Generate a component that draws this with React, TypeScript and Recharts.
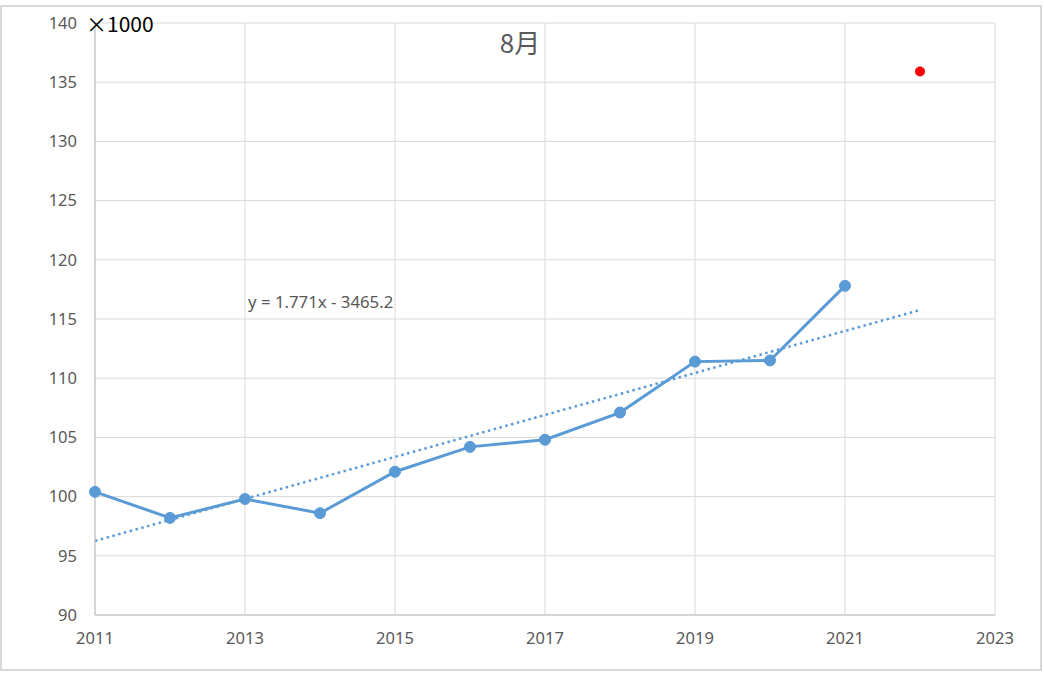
import React from "react";
import { ComposedChart, Line, XAxis, YAxis, CartesianGrid } from "recharts";

const years = [2011, 2012, 2013, 2014, 2015, 2016, 2017, 2018, 2019, 2020, 2021];
const values = [100.4, 98.2, 99.8, 98.6, 102.1, 104.2, 104.8, 107.1, 111.4, 111.5, 117.8];
const forecastYear = [2022];
const forecastValue = [135.9];
const trendYears = [2011, 2022];
const trendValues = [96.26, 115.76];
const xTicks = [2011, 2013, 2015, 2017, 2019, 2021, 2023];
const yTicks = [90, 95, 100, 105, 110, 115, 120, 125, 130, 135, 140];

const mainData = years.map((y, i) => ({ year: y, value: values[i] }));
const forecastData = forecastYear.map((y, i) => ({ year: y, value: forecastValue[i] }));
const trendData = trendYears.map((y, i) => ({ year: y, trend: trendValues[i] }));

const FONT = "'Noto Sans', sans-serif";

export default function App() {
  return (
    <div style={{ position: "absolute", left: 0, top: 0, width: 1044, height: 673, background: "#fff" }}>
      <div
        style={{
          position: "absolute",
          left: 0,
          top: 5,
          width: 1038,
          height: 662,
          border: "2px solid #d9d9d9",
        }}
      />
      <ComposedChart
        width={1044}
        height={673}
        margin={{ top: 23, right: 49, bottom: 28, left: 35 }}
        style={{ position: "absolute", left: 0, top: 0 }}
      >
        <CartesianGrid stroke="#d9d9d9" strokeWidth={1} />
        <XAxis
          dataKey="year"
          type="number"
          domain={[2011, 2023]}
          ticks={xTicks}
          allowDuplicatedCategory={false}
          stroke="#bfbfbf"
          tickLine={false}
          tickSize={6}
          tickMargin={11}
          height={30}
          tick={{ fill: "#595959", fontSize: 16.5, fontFamily: FONT }}
        />
        <YAxis
          type="number"
          domain={[90, 140]}
          ticks={yTicks}
          stroke="#bfbfbf"
          tickLine={false}
          tickSize={6}
          tickMargin={12}
          width={60}
          tick={{ fill: "#595959", fontSize: 16.5, fontFamily: FONT }}
        />
        <Line
          data={trendData}
          dataKey="trend"
          type="linear"
          stroke="#5b9bd5"
          strokeWidth={2.5}
          strokeDasharray="2.5 3.5"
          dot={false}
          activeDot={false}
          isAnimationActive={false}
        />
        <Line
          data={mainData}
          dataKey="value"
          type="linear"
          stroke="#5b9bd5"
          strokeWidth={3}
          dot={{ r: 5.5, fill: "#5b9bd5", stroke: "#5b9bd5", strokeWidth: 1 }}
          activeDot={false}
          isAnimationActive={false}
        />
        <Line
          data={forecastData}
          dataKey="value"
          type="linear"
          stroke="none"
          dot={{ r: 5, fill: "#ff0000", stroke: "#ff0000", strokeWidth: 0 }}
          activeDot={false}
          isAnimationActive={false}
        />
      </ComposedChart>
      <div
        style={{
          position: "absolute",
          left: 86,
          top: 9,
          fontFamily: "'Noto Sans CJK JP', sans-serif",
          fontSize: 21,
          lineHeight: "28px",
          color: "#000",
          whiteSpace: "nowrap",
        }}
      >
        ×1000
      </div>
      <div
        style={{
          position: "absolute",
          left: 470,
          width: 100,
          textAlign: "center",
          top: 24,
          fontFamily: "'Noto Sans CJK JP', sans-serif",
          fontSize: 26,
          lineHeight: "36px",
          color: "#595959",
        }}
      >
        8月
      </div>
      <div
        style={{
          position: "absolute",
          left: 248,
          top: 291,
          fontFamily: FONT,
          fontSize: 16.8,
          lineHeight: "22px",
          color: "#595959",
          whiteSpace: "nowrap",
        }}
      >
        y = 1.771x - 3465.2
      </div>
    </div>
  );
}
